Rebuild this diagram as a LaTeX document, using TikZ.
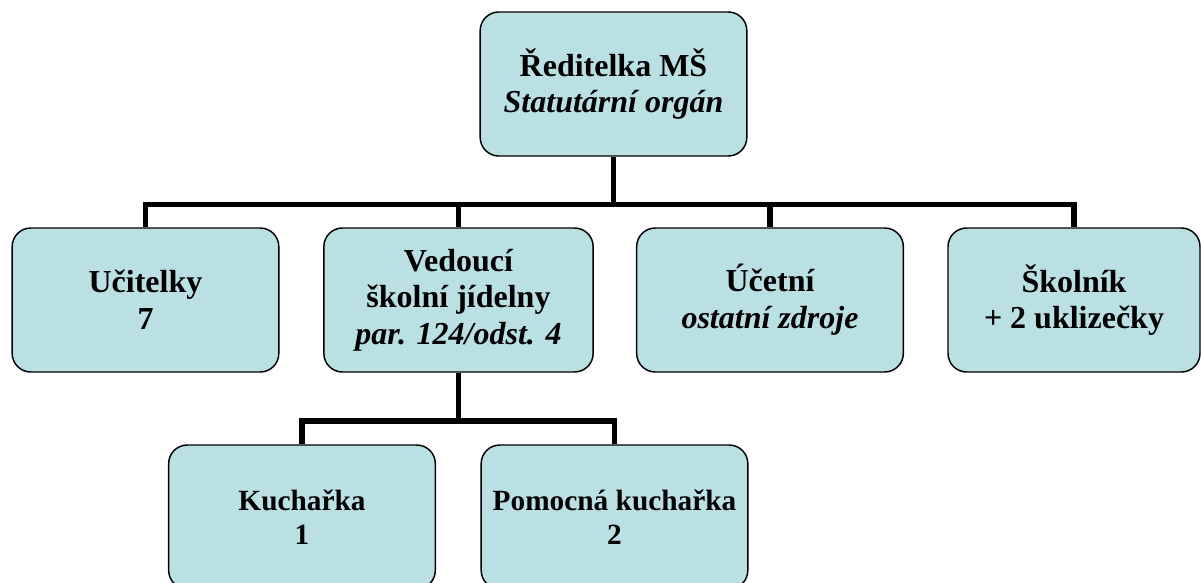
\documentclass[tikz,border=0pt]{standalone}
\usepackage{fontspec}
\setmainfont{Liberation Serif}
\definecolor{boxfill}{RGB}{187,224,227}
\tikzset{
	box/.style={draw,line width=1.1pt,fill=boxfill,rounded corners=14pt,
		minimum width=200pt,minimum height=108pt,inner sep=0pt,align=center,
		font=\fontsize{24}{27.5}\selectfont\bfseries},
	smallbox/.style={box,font=\fontsize{22}{26}\selectfont\bfseries},
	link/.style={line width=4.2pt}
}
\begin{document}
\begin{tikzpicture}[x=0.75pt,y=0.75pt]
	\useasboundingbox (0,0) rectangle (1203,-582);
	\clip (0,0) rectangle (1203,-582);
	%\draw[help lines] (0,0) grid (1203,-582);
	\coordinate (bar) at (0,-204.5);
	\coordinate (bar2) at (0,-421);
	\node[box] (RMS) at (613.5,-84) {Ředitelka MŠ\\ \textit{Statutární orgán}};
	\node[box] (UC) at (145.5,-300) {Učitelky\\ 7};
	\node[box,minimum width=202pt] (VSJ) at (458.5,-300) {Vedoucí\\ školní jídelny\\ \textit{par. 124/odst. 4}};
	\node[box] (UE) at (770,-300) {Účetní\\ \textit{ostatní zdroje}};
	\node[box,minimum width=189pt] (SK) at (1074,-300) {Školník\\ + 2 uklizečky};
	\node[smallbox] (KU) at (302,-517) {Kuchařka\\ 1};
	\node[smallbox] (PK) at (614.5,-517) {Pomocná kuchařka\\ 2};
	\draw [link] (RMS.south) to (RMS.south |- bar);
	\draw [link] (UC.north) -- (UC.north |- bar) -- (SK.north |- bar) -- (SK.north);
	\draw [link] (VSJ.north) to (VSJ.north |- bar);
	\draw [link] (UE.north) to (UE.north |- bar);
	\draw [link] (VSJ.south) to (VSJ.south |- bar2);
	\draw [link] (KU.north) -- (KU.north |- bar2) -- (PK.north |- bar2) -- (PK.north);
\end{tikzpicture}
\end{document}
